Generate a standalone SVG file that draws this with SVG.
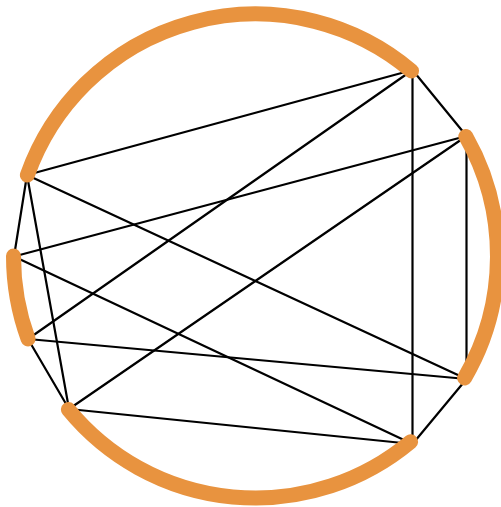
<svg xmlns="http://www.w3.org/2000/svg" width="501" height="507" viewBox="0 0 501 507">
<style>
.edge{stroke:#000;stroke-width:2.2;fill:none;stroke-linecap:round}
.arc{stroke:#e8933f;stroke-width:15;fill:none;stroke-linecap:round}
</style>
<rect width="501" height="507" fill="#fff"/>
<g id="connectors">
<line class="edge" x1="27" y1="175" x2="412.5" y2="70"/>
<line class="edge" x1="27" y1="175" x2="466.5" y2="379"/>
<line class="edge" x1="27" y1="175" x2="14" y2="256.5"/>
<line class="edge" x1="27" y1="175" x2="69" y2="409"/>
<line class="edge" x1="14" y1="256.5" x2="466.5" y2="136"/>
<line class="edge" x1="14" y1="256.5" x2="412.5" y2="444"/>
<line class="edge" x1="28" y1="339" x2="412.5" y2="70"/>
<line class="edge" x1="28" y1="339" x2="466.5" y2="379"/>
<line class="edge" x1="28" y1="339" x2="69" y2="409"/>
<line class="edge" x1="69" y1="409" x2="466.5" y2="136"/>
<line class="edge" x1="69" y1="409" x2="412.5" y2="444"/>
<line class="edge" x1="412.5" y1="70" x2="412.5" y2="444"/>
<line class="edge" x1="412.5" y1="70" x2="466.5" y2="136"/>
<line class="edge" x1="466.5" y1="136" x2="466.5" y2="379"/>
<line class="edge" x1="466.5" y1="379" x2="412.5" y2="444"/>
</g>
<g id="arc-top"><path class="arc" d="M27.4 175.1 A242 242 0 0 1 411.5 71"/></g>
<g id="arc-right"><path class="arc" d="M465.8 136.4 A242 242 0 0 1 464.6 377.9"/></g>
<g id="arc-bottom"><path class="arc" d="M410.6 441.8 A242 242 0 0 1 68.4 409.5"/></g>
<g id="arc-left"><path class="arc" d="M28.1 338.9 A242 242 0 0 1 13.5 256"/></g>
</svg>
